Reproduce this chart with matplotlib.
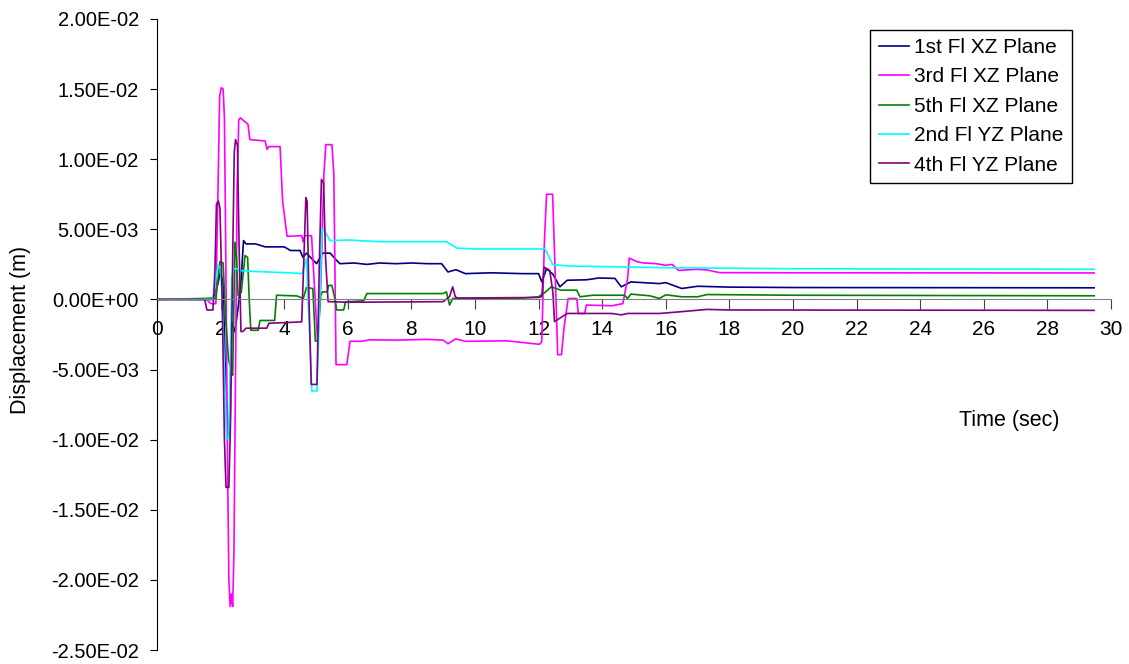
import numpy as np
import matplotlib
matplotlib.use("Agg")
import matplotlib.pyplot as plt
from matplotlib.ticker import FuncFormatter

plt.rcParams['font.family'] = ['Liberation Sans', 'DejaVu Sans']

# displacement values, in mm (converted to m when drawn)
t_1st_xz = [0, 1.75, 1.9, 2.0, 2.08, 2.2, 2.27, 2.35, 2.45, 2.55, 2.65, 2.72, 2.8, 3.1, 3.4,
            4.0, 4.2, 4.5, 4.59, 4.7, 5.02, 5.2, 5.45, 5.6, 5.75, 6.2, 6.6, 7.0, 7.5, 8.0,
            8.5, 8.95, 9.15, 9.4, 9.7, 10.5, 11.5, 12.0, 12.1, 12.25, 12.45, 12.67, 12.9,
            13.5, 13.9, 14.4, 14.6, 14.9, 15.8, 16.0, 16.5, 17.0, 18.0, 20.0, 29.47]
v_1st_xz = [0, 0, 1.0, 2.0, 1.0, -9.8, -9.5, -1.6, -2.3, -0.6, 1.5, 4.2, 3.96, 3.96, 3.75,
            3.75, 3.49, 3.49, 3.0, 3.3, 2.55, 3.3, 3.3, 2.9, 2.55, 2.6, 2.5, 2.6, 2.55, 2.6,
            2.55, 2.55, 1.96, 2.12, 1.84, 1.9, 1.84, 1.84, 1.25, 2.19, 1.8, 0.9, 1.37,
            1.4, 1.53, 1.5, 0.9, 1.25, 1.13, 1.2, 0.78, 0.94, 0.88, 0.85, 0.83]

t_3rd_xz = [0, 1.55, 1.7, 1.85, 1.92, 1.97, 2.02, 2.08, 2.12, 2.16, 2.22, 2.26, 2.3, 2.34,
            2.38, 2.42, 2.47, 2.52, 2.57, 2.62, 2.86, 2.92, 3.4, 3.46, 3.52, 3.87, 3.95,
            4.09, 4.55, 4.6, 4.65, 4.86, 5.05, 5.15, 5.25, 5.31, 5.5, 5.56, 5.63, 5.97,
            6.07, 6.4, 6.7, 7.5, 8.5, 9.0, 9.15, 9.4, 9.7, 11.0, 12.03, 12.1, 12.18, 12.25,
            12.44, 12.52, 12.6, 12.72, 12.8, 12.93, 13.2, 13.25, 13.45, 13.5, 14.3, 14.65,
            14.8, 14.85, 15.1, 15.3, 15.7, 16.0, 16.2, 16.4, 17.0, 17.3, 17.7, 20.0, 29.47]
v_3rd_xz = [0, 0, -0.3, -0.3, 8.0, 14.5, 15.1, 15.0, 13.0, 4.0, -12.0, -20.0, -21.9, -21.0,
            -21.9, -18.0, -5.0, 8.0, 12.8, 12.95, 12.5, 11.4, 11.3, 10.7, 10.9, 10.9, 7.0,
            4.5, 4.55, 4.1, 4.55, 4.55, -3.0, 1.0, 9.0, 11.04, 11.04, 9.0, -4.65, -4.65,
            -2.98, -2.99, -2.88, -2.9, -2.85, -2.9, -3.16, -2.81, -2.99, -2.95, -3.2, -3.0, 4.0, 7.5,
            7.5, 2.0, -3.94, -3.94, -2.0, 0.07, 0.07, -1.0, -1.0, -0.4, -0.45, -0.3,
            1.5, 2.95, 2.69, 2.6, 2.55, 2.43, 2.5, 2.07, 2.15, 2.1, 1.91, 1.9, 1.89]

t_5th_xz = [0, 1.5, 1.75, 1.85, 1.92, 1.98, 2.08, 2.15, 2.25, 2.35, 2.38, 2.45, 2.5, 2.55,
            2.65, 2.77, 2.85, 2.9, 2.95, 3.18, 3.24, 3.7, 3.76, 4.4, 4.6, 4.7, 4.9, 4.98,
            5.05, 5.15, 5.2, 5.35, 5.4, 5.5, 5.6, 5.65, 5.87, 5.93, 6.5, 6.6, 9.0, 9.1,
            9.2, 9.3, 11.5, 12.0, 12.2, 12.4, 12.7, 13.2, 13.3, 13.7, 14.7, 14.8, 14.9,
            15.5, 15.8, 16.0, 16.5, 17.0, 17.3, 20.0, 29.47]
v_5th_xz = [0, 0.07, 0.1, 0, 1.5, 2.71, 2.6, -1.0, -4.3, -5.2, -5.4, 4.08, 3.0, 0.3, 0.5,
            3.13, 3.0, 0, -2.2, -2.2, -1.5, -1.5, 0.3, 0.25, 0.07, 0.85, 0.78, -2.97,
            -2.97, 0.3, 0.54, 0.54, 1.0, 1.0, 0, -0.75, -0.75, -0.17, -0.1, 0.42, 0.42, 0.54,
            -0.4, 0.07, 0.1, 0.19, 0.5, 0.9, 0.66, 0.66, 0.19, 0.3, 0.3, 0.07, 0.38,
            0.26, 0.07, 0.33, 0.19, 0.19, 0.35, 0.3, 0.26]

t_2nd_yz = [0, 1.75, 1.82, 1.92, 2.0, 2.05, 2.19, 2.26, 2.3, 2.35, 2.4, 2.5, 2.6, 3.0, 3.5,
            4.18, 4.56, 4.7, 4.87, 5.03, 5.19, 5.24, 5.44, 6.0, 7.0, 9.1, 9.43, 10.0, 11.5,
            12.2, 12.45, 13.0, 15.2, 16.0, 20.0, 29.47]
v_2nd_yz = [0, 0, 1.0, 2.43, 2.2, 0, -9.95, -9.95, -5.0, 1.5, 2.19, 2.19, 2.07, 2.0, 1.96,
            1.9, 1.84, 2.9, -6.53, -6.53, 5.02, 5.02, 4.2, 4.24, 4.12, 4.12, 3.66, 3.6, 3.6,
            3.6, 2.48, 2.38, 2.3, 2.26, 2.19, 2.15]

t_4th_yz = [0, 1.5, 1.57, 1.76, 1.82, 1.87, 1.93, 1.98, 2.05, 2.12, 2.17, 2.26, 2.32, 2.38,
            2.43, 2.47, 2.53, 2.58, 2.64, 2.7, 2.8, 3.45, 3.52, 4.55, 4.62, 4.68, 4.72, 4.78,
            4.85, 4.9, 5.03, 5.1, 5.17, 5.24, 5.3, 5.38, 5.45, 6.0, 9.0, 9.2, 9.3, 9.38, 9.45,
            12.0, 12.1, 12.17, 12.35, 12.45, 12.5, 12.9, 14.3, 14.6, 14.8, 15.8, 16.5, 17.3,
            18.0, 29.47]
v_4th_yz = [0, 0, -0.75, -0.75, 2.0, 6.8, 7.03, 6.5, 0, -10.0, -13.4, -13.4, -8.0, 3.0,
            10.5, 11.4, 11.0, 4.0, -2.29, -2.29, -2.05, -2.05, -1.7, -1.6, 3.0, 7.26, 7.0, 0,
            -6.06, -6.06, -6.06, 2.0, 8.56, 8.3, 3.0, -0.16, -0.16, -0.2, -0.16, 0.2, 0.9,
            0.19, 0.1, 0.14, 0.2, 2.31, 2.07, 0.5, -1.58, -1.0, -1.0, -1.1, -1.0, -1.0,
            -0.87, -0.71, -0.75, -0.78]

series = [
    ("1st Fl XZ Plane", t_1st_xz, v_1st_xz, "#000080"),
    ("3rd Fl XZ Plane", t_3rd_xz, v_3rd_xz, "#FF00FF"),
    ("5th Fl XZ Plane", t_5th_xz, v_5th_xz, "#008000"),
    ("2nd Fl YZ Plane", t_2nd_yz, v_2nd_yz, "#00FFFF"),
    ("4th Fl YZ Plane", t_4th_yz, v_4th_yz, "#800080"),
]

y_ticks = [-0.025, -0.02, -0.015, -0.01, -0.005, 0.0, 0.005, 0.01, 0.015, 0.02]
x_ticks = list(range(0, 31, 2))

fig = plt.figure(figsize=(11.29, 6.64), dpi=100)
ax = fig.add_axes([157 / 1129, 14 / 664, 954 / 1129, 631 / 664])

for label, t, v, c in series:
    ax.plot(t, np.array(v) * 1e-3, color=c, lw=1.2, label=label)

ax.set_xlim(0, 30)
ax.set_ylim(-0.025, 0.02)
ax.set_xticks(x_ticks)
ax.set_yticks(y_ticks)


def sci(v, pos):
    if abs(v) < 1e-12:
        v = 0.0
    return f"{v:.2E}"


ax.yaxis.set_major_formatter(FuncFormatter(sci))

# axes like the spreadsheet chart: x axis crosses at zero
ax.spines['top'].set_visible(False)
ax.spines['right'].set_visible(False)
ax.spines['bottom'].set_position(('data', 0))
ax.spines['bottom'].set_color('#808080')
ax.spines['left'].set_color('#000000')
ax.tick_params(axis='y', direction='out', length=5, pad=8, labelsize=14.5)
ax.tick_params(axis='x', direction='out', length=7, pad=8, labelsize=15, color='#404040')

ax.set_ylabel("Displacement (m)", fontsize=15.5)
ax.yaxis.set_label_coords(-0.132, 0.508)
ax.set_xlabel("Time (sec)", fontsize=15.5)
ax.xaxis.set_label_coords(0.893, 0.38)

leg = ax.legend(loc='upper right', bbox_to_anchor=(0.959, 0.983), borderaxespad=0,
                fontsize=15, fancybox=False, edgecolor='black', framealpha=1,
                handlelength=1.45, handletextpad=0.25, labelspacing=0.5)
leg.get_frame().set_linewidth(1.0)

fig.savefig("out.png", dpi=100)
